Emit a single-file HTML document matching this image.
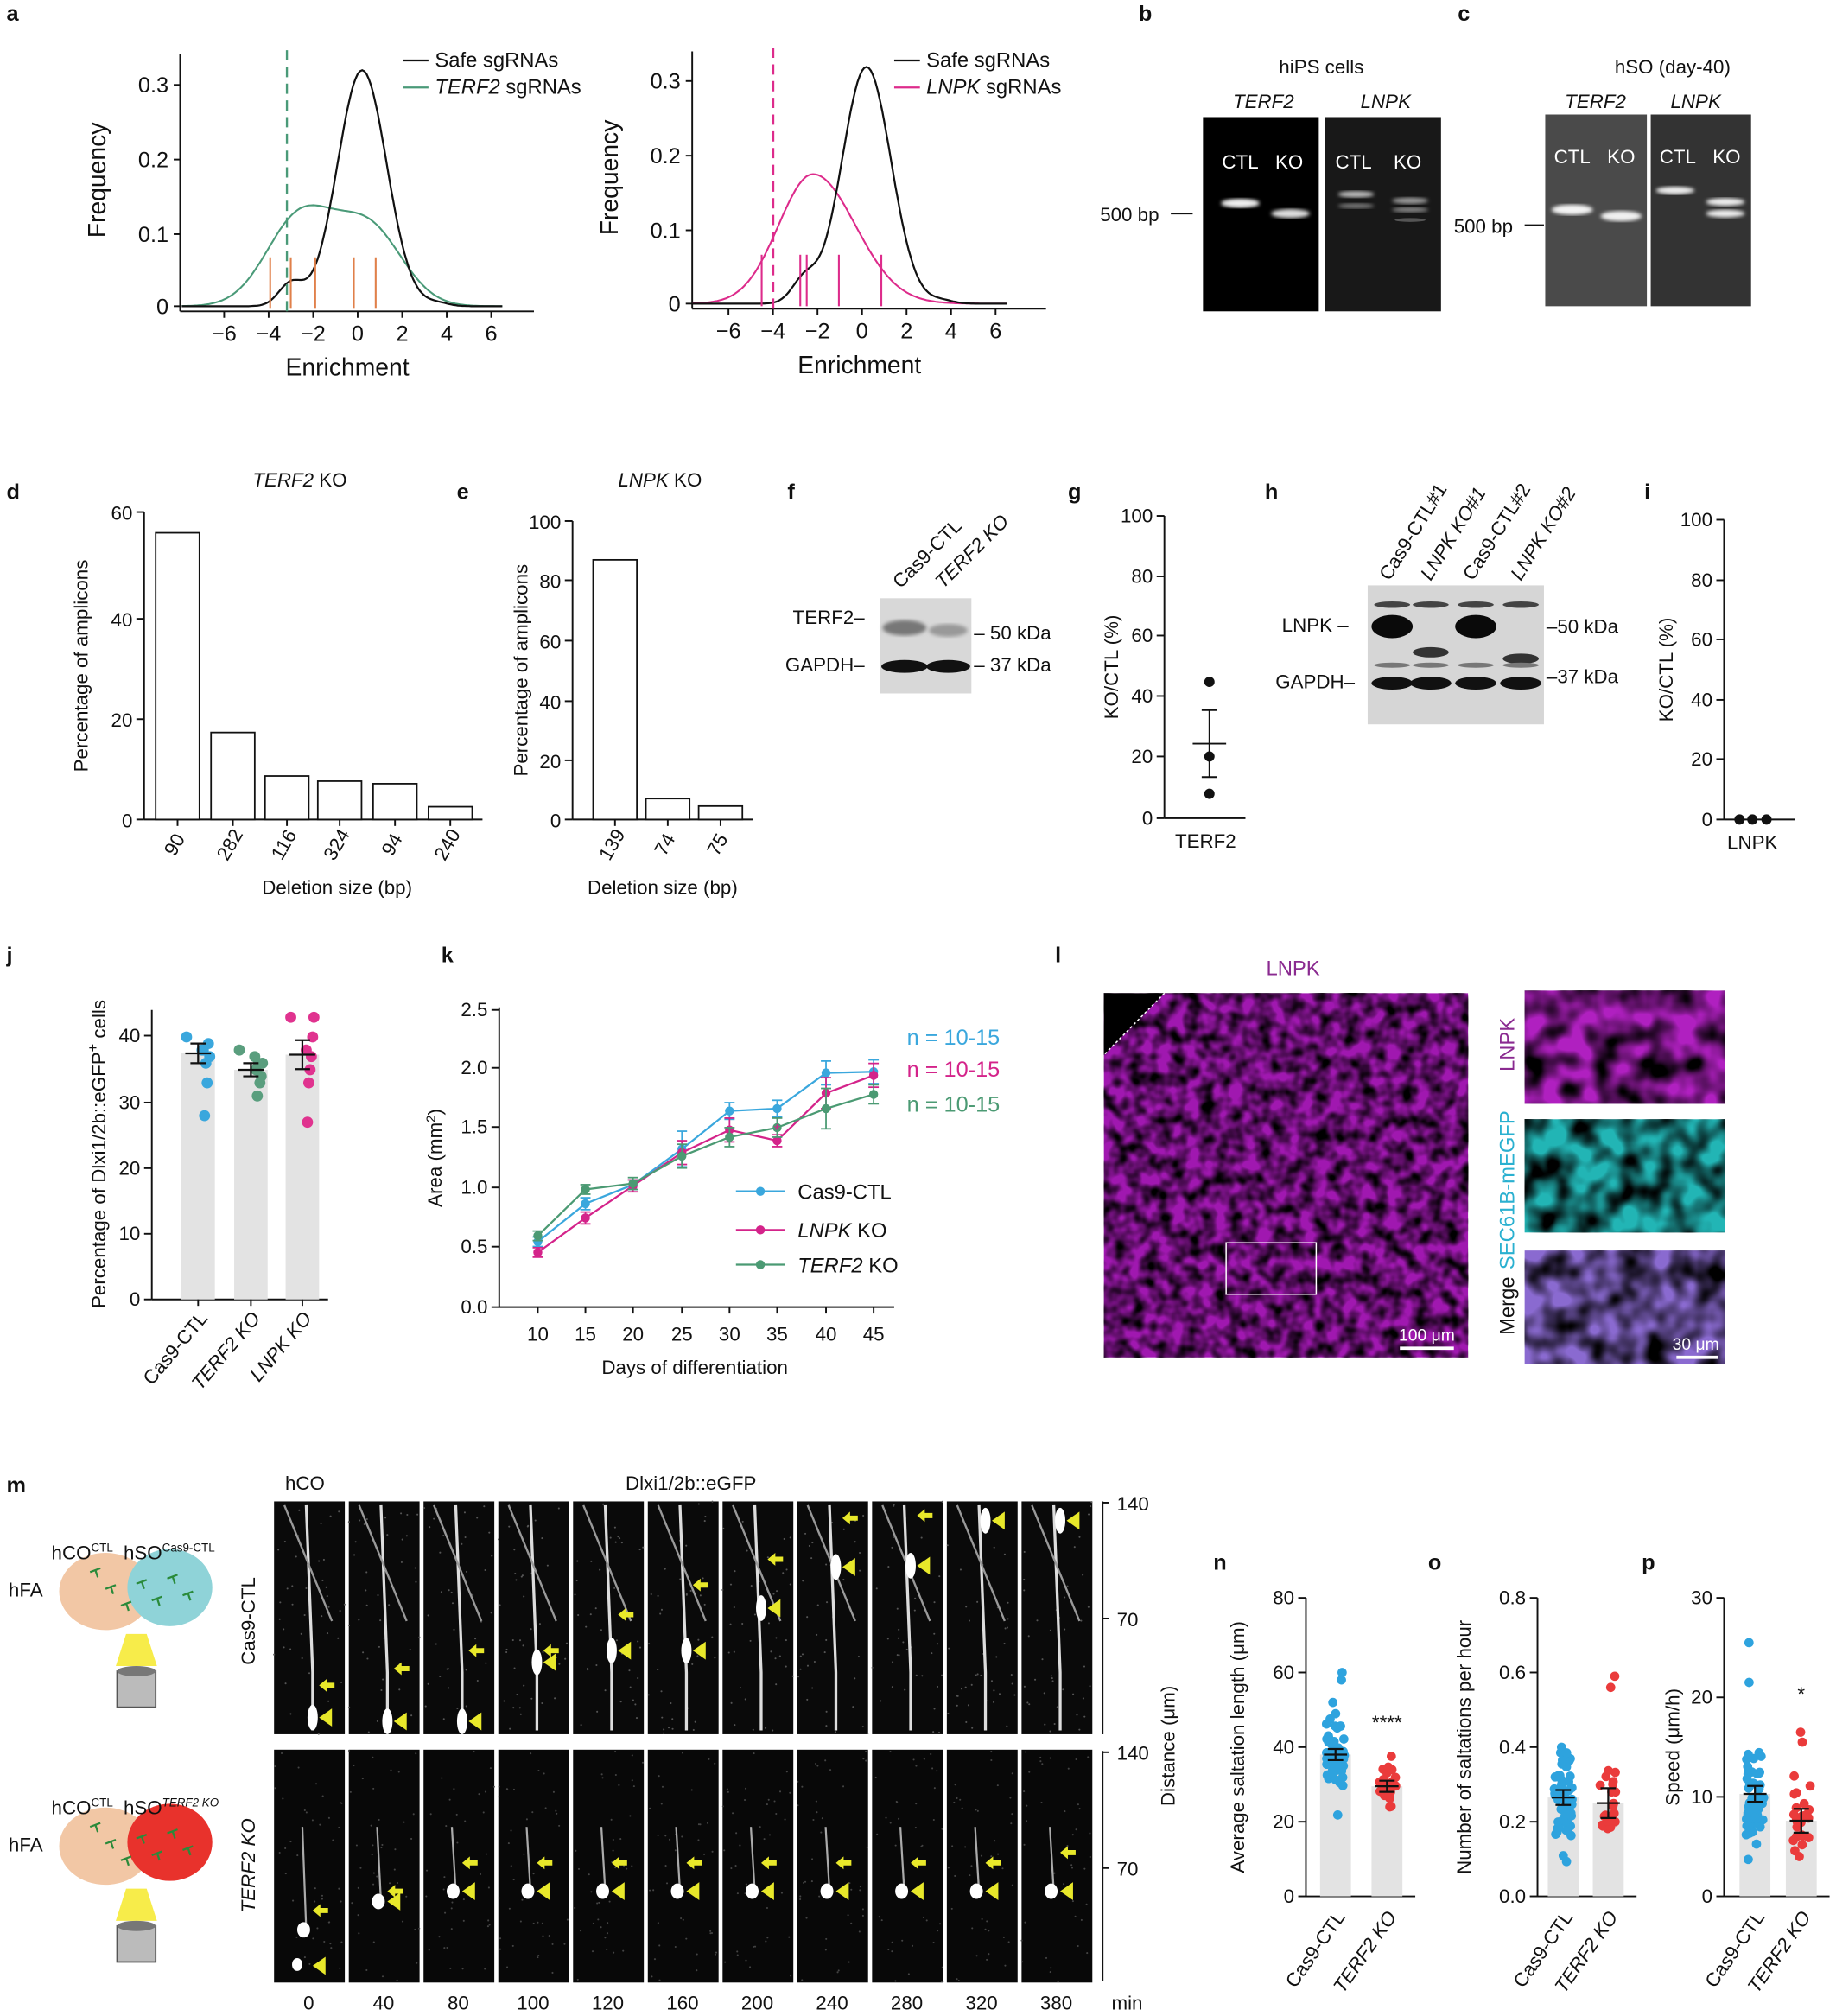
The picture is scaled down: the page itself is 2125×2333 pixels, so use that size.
<!DOCTYPE html>
<html><head><meta charset="utf-8"><style>
html,body{margin:0;padding:0;background:#fff}
svg{display:block}
text{font-family:"Liberation Sans",Arial,sans-serif;fill:#111}
.b{font-weight:bold;font-size:17px}
.t{font-size:15px}
.s{font-size:13px}
.i{font-style:italic}
</style></head><body>
<svg id="S" xmlns="http://www.w3.org/2000/svg" width="2125" height="2333" viewBox="0 0 1427 1567" preserveAspectRatio="none">
<defs>
<filter id="tex" x="0" y="0" width="100%" height="100%">
<feTurbulence type="fractalNoise" baseFrequency="0.09" numOctaves="2" seed="3"/>
<feColorMatrix type="matrix" values="0 0 0 0 0  0 0 0 0 0  0 0 0 0 0  0 0 0 -2.2 1.5"/>
</filter>
<filter id="tex2" x="0" y="0" width="100%" height="100%">
<feTurbulence type="fractalNoise" baseFrequency="0.05" numOctaves="2" seed="7"/>
<feColorMatrix type="matrix" values="0 0 0 0 0  0 0 0 0 0  0 0 0 0 0  0 0 0 -2.4 1.6"/>
</filter>
<filter id="blur1"><feGaussianBlur stdDeviation="1.5"/></filter>
</defs>
<g id="G" stroke-linecap="butt"></g>
</svg>
<script>
var G=document.getElementById('G'),NS='http://www.w3.org/2000/svg';
function el(t,a,txt){var e=document.createElementNS(NS,t);for(var k in a)e.setAttribute(k,a[k]);if(txt!==undefined)e.textContent=txt;G.appendChild(e);return e;}
function L(x1,y1,x2,y2,c,w,d){var a={x1:x1,y1:y1,x2:x2,y2:y2,stroke:c||'#111','stroke-width':w||1.3};if(d)a['stroke-dasharray']=d;return el('line',a);}
function T(x,y,s,cls,anc,rot,fill){var a={x:x,y:y,'class':cls||'t','text-anchor':anc||'middle'};if(rot!==undefined)a.transform='rotate('+rot+' '+x+' '+y+')';if(fill)a.style='fill:'+fill;return el('text',a,s);}
function R(x,y,w,h,f,st){var a={x:x,y:y,width:w,height:h,fill:f};if(st){a.stroke=st;a['stroke-width']=1.2;}return el('rect',a);}
function C(x,y,r,f){return el('circle',{cx:x,cy:y,r:r,fill:f});}
function P(d,st,w,f){return el('path',{d:d,stroke:st||'none','stroke-width':w||1.3,fill:f||'none'});}
var seed=1;function rnd(){seed=(seed*16807)%2147483647;return seed/2147483647;}
function g(x,m,s){return Math.exp(-(x-m)*(x-m)/(2*s*s));}
[['a',5,16],['b',885,16],['c',1133,16],['d',5,388],['e',355,388],['f',612,388],['g',830,388],['h',983,388],['i',1278,388],['j',5,748],['k',343,748],['l',820,748],['m',5,1160],['n',943,1220],['o',1110,1220],['p',1276,1220]].forEach(function(p){T(p[1],p[2],p[0],'b','start');});

// ---- panel a
function densPanel(ax,zx,uy,y0,ytop,ticks,col,tcol,fn,dx,tickxs,legend){
  L(ax,ytop,ax,y0+4);
  ticks.forEach(function(t){L(ax-5,t[1],ax,t[1]);T(ax-9,t[1]+6,t[0],'t','end').style.fontSize='17px';});
  L(ax,y0+4,ax+275,y0+4);
  for(var v=-6;v<=6;v+=2){var x=zx+17.3*v;L(x,y0+4,x,y0+9);T(x,y0+27,(v<0?'\u2212':'')+Math.abs(v),'t').style.fontSize='17px';}
  var d1='',d2='';
  for(var x=-8;x<=6.5;x+=0.1){var px=zx+17.3*x;if(px<ax)continue;var yb=0.32*g(x,0.2,1.1)+0.03*g(x,(ax<300?-3:-2.6),0.55)+0.004*g(x,3.6,0.5);
    d1+=(d1?'L':'M')+px.toFixed(1)+' '+(y0-uy*yb).toFixed(1);
    d2+=(d2?'L':'M')+px.toFixed(1)+' '+(y0-uy*fn(x)).toFixed(1);}
  P(d2,col,1.4);P(d1,'#111',1.5);
  L(dx,ytop-3,dx,y0+4,col,1.6,'8,5');
  tickxs.forEach(function(x){L(x,y0-38,x,y0+2,tcol,1.4);});
  L(legend,47,legend+20,47,'#111',1.5);T(legend+25,52,'Safe sgRNAs','t','start').style.fontSize='16px';
  L(legend,68,legend+20,68,col,1.5);
  var tt=T(legend+25,73,'','t','start');tt.style.fontSize='16px';var ts=document.createElementNS(NS,'tspan');ts.setAttribute('font-style','italic');ts.textContent=(ax<300?'TERF2':'LNPK');tt.appendChild(ts);tt.appendChild(document.createTextNode(' sgRNAs'));
}
densPanel(140,278,573,238,42,[['0.3',66],['0.2',124],['0.1',182],['0',238]],'#4a9a78','#e0804a',function(x){return 0.12*g(x,-2.6,1.5)+0.105*g(x,0.5,1.5);},223,[210,226,245,275,292],313);
T(82,140,'Frequency','t','middle',-90);T(270,292,'Enrichment','t');
densPanel(538,670,575,236,40,[['0.3',63],['0.2',121],['0.1',179],['0',236]],'#dd2b8b','#dd2b8b',function(x){return 0.175*(x<-2.2?g(x,-2.2,1.55):g(x,-2.2,1.9));},601,[592,622,627,652,685],695);
T(480,138,'Frequency','t','middle',-90);T(668,290,'Enrichment','t');
Array.prototype.forEach.call(G.querySelectorAll('text'),function(t){if(t.textContent=='Frequency'||t.textContent=='Enrichment')t.style.fontSize='19px';});

// ---- panel b
T(1027,57,'hiPS cells','t');T(982,84,'TERF2','t i');T(1077,84,'LNPK','t i');
R(935,91,90,151,'#000');R(1030,91,90,151,'#181818');
['CTL','KO'].forEach(function(s,i){T(964+i*38,131,s,'t','middle',undefined,'#fff');T(1052+i*42,131,s,'t','middle',undefined,'#fff');});
el('ellipse',{cx:964,cy:158,rx:15,ry:3.5,fill:'#eee',filter:'url(#blur1)'});el('ellipse',{cx:1003,cy:166,rx:15,ry:3.5,fill:'#ddd',filter:'url(#blur1)'});
el('ellipse',{cx:1054,cy:151,rx:14,ry:2.5,fill:'#bbb',filter:'url(#blur1)'});el('ellipse',{cx:1054,cy:160,rx:14,ry:2,fill:'#777',filter:'url(#blur1)'});
el('ellipse',{cx:1096,cy:156,rx:14,ry:2.5,fill:'#999',filter:'url(#blur1)'});el('ellipse',{cx:1096,cy:163,rx:14,ry:2,fill:'#888',filter:'url(#blur1)'});el('ellipse',{cx:1096,cy:171,rx:12,ry:1.5,fill:'#555'});
T(855,172,'500 bp','t','start');L(910,166,927,166);
// ---- panel c
T(1300,57,'hSO (day-40)','t');T(1240,84,'TERF2','t i');T(1318,84,'LNPK','t i');
R(1201,89,79,149,'#4a4a4a');R(1283,89,78,149,'#333');
T(1222,127,'CTL','t','middle',undefined,'#fff');T(1260,127,'KO','t','middle',undefined,'#fff');T(1304,127,'CTL','t','middle',undefined,'#fff');T(1342,127,'KO','t','middle',undefined,'#fff');
el('ellipse',{cx:1222,cy:163,rx:16,ry:4,fill:'#f4f4f4',filter:'url(#blur1)'});el('ellipse',{cx:1260,cy:168,rx:16,ry:4,fill:'#f0f0f0',filter:'url(#blur1)'});
el('ellipse',{cx:1302,cy:148,rx:15,ry:3,fill:'#eee',filter:'url(#blur1)'});el('ellipse',{cx:1341,cy:157,rx:15,ry:3,fill:'#eee',filter:'url(#blur1)'});el('ellipse',{cx:1341,cy:166,rx:15,ry:3,fill:'#eee',filter:'url(#blur1)'});
T(1130,181,'500 bp','t','start');L(1185,175,1200,175);

// ---- bar histograms d,e
function hist(ax,y0,ytop,ticks,uy,bars,cx,w,ylab,ylx,title,tx){
  L(ax,ytop,ax,y0);ticks.forEach(function(t){L(ax-6,t[1],ax,t[1]);T(ax-9,t[1]+6,t[0],'t','end');});
  L(ax,y0,cx[cx.length-1]+w/2+8,y0);
  bars.forEach(function(b,i){R(cx[i]-w/2,y0-b[1]*uy,w,b[1]*uy,'#fff','#111');L(cx[i],y0,cx[i],y0+5);T(cx[i]+2,y0+22,b[0],'t','middle',-60);});
  T(ylx,(ytop+y0)/2,ylab,'t','middle',-90);
  var tt=T(tx,378,'','t');var ts=document.createElementNS(NS,'tspan');ts.setAttribute('font-style','italic');ts.textContent=title;tt.appendChild(ts);tt.appendChild(document.createTextNode(' KO'));
}
hist(112,637,398,[['60',398],['40',481],['20',559],['0',637]],3.98,[['90',56],['282',17],['116',8.5],['324',7.5],['94',7],['240',2.5]],[138,181,223,264,307,350],34,'Percentage of amplicons',68,'TERF2',233);
T(262,695,'Deletion size (bp)','t');
hist(445,637,405,[['100',405],['80',451],['60',498],['40',545],['20',591],['0',637]],2.32,[['139',87],['74',7],['75',4.5]],[478,519,560],34,'Percentage of amplicons',410,'LNPK',513);
T(515,695,'Deletion size (bp)','t');

// ---- f blot
R(684,465,71,74,'#d8d8d8');
el('ellipse',{cx:703,cy:488,rx:17,ry:6,fill:'#777',filter:'url(#blur1)'});el('ellipse',{cx:737,cy:490,rx:15,ry:5,fill:'#999',filter:'url(#blur1)'});
el('ellipse',{cx:703,cy:518,rx:18,ry:5,fill:'#111'});el('ellipse',{cx:737,cy:518,rx:17,ry:5,fill:'#111'});
T(672,485,'TERF2\u2013','t','end');T(672,522,'GAPDH\u2013','t','end');
T(757,497,'\u2013 50 kDa','t','start');T(757,522,'\u2013 37 kDa','t','start');
T(700,458,'Cas9-CTL','t','start',-45);T(733,458,'TERF2 KO','t i','start',-45);
// ---- g
function dotax(ax,y0,ytop,ticks,yl,ylx,lab,labx,xend){L(ax,ytop,ax,y0);ticks.forEach(function(t){L(ax-6,t[1],ax,t[1]);T(ax-9,t[1]+5,t[0],'t','end');});L(ax,y0,xend,y0);T(ylx,(ytop+y0)/2,yl,'t','middle',-90);T(labx,y0+23,lab,'t');}
dotax(905,636,401,[['100',401],['80',448],['60',494],['40',541],['20',588],['0',636]],'KO/CTL (%)',869,'TERF2',937,968);
[530,588,617].forEach(function(y){C(940,y,4,'#111');});L(927,578,953,578);L(940,552,940,604);L(934,552,946,552);L(934,604,946,604);
// ---- h blot
R(1063,455,137,108,'#d6d6d6');
[1082,1112,1147,1182].forEach(function(x,i){
 if(i==0||i==2)el('ellipse',{cx:x,cy:487,rx:16,ry:9,fill:'#0a0a0a'});else el('ellipse',{cx:x,cy:i==3?512:507,rx:14,ry:4,fill:'#333'});
 el('ellipse',{cx:x,cy:470,rx:14,ry:2.5,fill:'#444'});el('ellipse',{cx:x,cy:531,rx:16,ry:5,fill:'#111'});el('ellipse',{cx:x,cy:517,rx:14,ry:2,fill:'#777'});});
T(1048,491,'LNPK \u2013','t','end');T(1053,535,'GAPDH\u2013','t','end');T(1202,492,'\u201350 kDa','t','start');T(1202,531,'\u201337 kDa','t','start');
['Cas9-CTL#1','LNPK KO#1','Cas9-CTL#2','LNPK KO#2'].forEach(function(s,i){var x=[1080,1112,1145,1182][i];T(x,452,s,'t'+(i%2?' i':''),'start',-58);});
// ---- i
dotax(1340,637,404,[['100',404],['80',451],['60',497],['40',544],['20',590],['0',637]],'KO/CTL (%)',1300,'LNPK',1362,1395);
[1352,1362,1373].forEach(function(x){C(x,637,4,'#111');});

// ---- j
(function(){var ax=118,y0=1010,uy=5.1;L(ax,785,ax,y0);[['40',805],['30',857],['20',908],['10',959],['0',1010]].forEach(function(t){L(ax-6,t[1],ax,t[1]);T(ax-9,t[1]+5,t[0],'t','end');});
L(ax,y0,255,y0);
var cs=['#3aa7dd','#5a9e7e','#e0338f'],cx=[154,195,235],mean=[37.5,35,37.3],se=[1.5,1,2.2];
var pts=[[40,37,39,33,36,28,38,38],[38,36,34,33,36,31,35,37],[43,43,40,37,35,33,27,38]];
cx.forEach(function(x,i){R(x-13,y0-mean[i]*uy,26,mean[i]*uy,'#e3e3e3');L(x,y0,x,y0+5);
 pts[i].forEach(function(v,k){C(x+((k*37)%19-9),y0-v*uy,4.3,cs[i]);});
 var ym=y0-mean[i]*uy;L(x-10,ym,x+10,ym,'#111',1.5);L(x,ym-se[i]*uy,x,ym+se[i]*uy,'#111',1.5);L(x-6,ym-se[i]*uy,x+6,ym-se[i]*uy,'#111',1.5);L(x-6,ym+se[i]*uy,x+6,ym+se[i]*uy,'#111',1.5);});
['Cas9-CTL','TERF2 KO','LNPK KO'].forEach(function(s,i){T(cx[i]+8,1025,s,'t'+(i?' i':''),'end',-50);});
var t=T(82,897,'Percentage of Dlxi1/2b::eGFP','t','middle',-90);var sp=document.createElementNS(NS,'tspan');sp.setAttribute('dy','-6');sp.setAttribute('font-size','11');sp.textContent='+';t.appendChild(sp);var sp2=document.createElementNS(NS,'tspan');sp2.setAttribute('dy','6');sp2.textContent=' cells';t.appendChild(sp2);
})();
// ---- k
(function(){var ax=388,y0=1016,uy=92.4;L(ax,783,ax,y0);
[['2.5',785],['2.0',830],['1.5',876],['1.0',923],['0.5',969],['0.0',1016]].forEach(function(t){L(ax-6,t[1],ax,t[1]);T(ax-9,t[1]+5,t[0],'t','end');});
L(ax,y0,695,y0);var xs=[418,455,492,530,567,604,642,679];
xs.forEach(function(x,i){L(x,y0,x,y0+5);T(x,y0+26,String(10+5*i),'t');});
var series=[['#3aa7dd',[0.55,0.87,1.03,1.33,1.65,1.67,1.97,1.98],[0.04,0.05,0.04,0.15,0.07,0.07,0.1,0.1]],
['#d4238a',[0.46,0.75,1.02,1.30,1.49,1.40,1.80,1.95],[0.04,0.05,0.05,0.1,0.1,0.05,0.13,0.1]],
['#4b9a73',[0.6,0.99,1.04,1.27,1.43,1.51,1.67,1.79],[0.04,0.04,0.05,0.1,0.08,0.08,0.17,0.08]]];
series.forEach(function(s){var d='';s[1].forEach(function(v,i){d+=(i?'L':'M')+xs[i]+' '+(y0-v*uy);L(xs[i],y0-(v+s[2][i])*uy,xs[i],y0-(v-s[2][i])*uy,s[0],1.2);L(xs[i]-4,y0-(v+s[2][i])*uy,xs[i]+4,y0-(v+s[2][i])*uy,s[0],1.2);L(xs[i]-4,y0-(v-s[2][i])*uy,xs[i]+4,y0-(v-s[2][i])*uy,s[0],1.2);});P(d,s[0],1.5);s[1].forEach(function(v,i){C(xs[i],y0-v*uy,3.5,s[0]);});});
T(604,883,'*','s','middle',undefined,'#d4238a');
T(741,812,'n = 10-15','t','middle',undefined,'#3aa7dd').style.fontSize='17px';
T(741,837,'n = 10-15','t','middle',undefined,'#d4238a').style.fontSize='17px';
T(741,864,'n = 10-15','t','middle',undefined,'#4b9a73').style.fontSize='17px';
[['Cas9-CTL',926,'#3aa7dd'],['LNPK KO',956,'#d4238a'],['TERF2 KO',983,'#4b9a73']].forEach(function(r,i){L(572,r[1],610,r[1],r[2],1.5);C(591,r[1],3.5,r[2]);
 var t=T(620,r[1]+6,'','t','start');t.style.fontSize='16px';if(i==0)t.textContent=r[0];else{var sp=document.createElementNS(NS,'tspan');sp.setAttribute('font-style','italic');sp.textContent=r[0].split(' ')[0];t.appendChild(sp);t.appendChild(document.createTextNode(' KO'));}});
T(540,1068,'Days of differentiation','t');
var t=T(343,900,'Area (mm','t','middle',-90);var sp=document.createElementNS(NS,'tspan');sp.setAttribute('dy','-5');sp.setAttribute('font-size','10');sp.textContent='2';t.appendChild(sp);var sp2=document.createElementNS(NS,'tspan');sp2.setAttribute('dy','5');sp2.textContent=')';t.appendChild(sp2);
})();
// ---- l
T(1005,758,'LNPK','t','middle',undefined,'#8a2a90').style.fontSize='16px';
R(858,772,283,283,'#a018b0');el('rect',{x:858,y:772,width:283,height:283,filter:'url(#tex)'});
P('M858 772 L905 772 L858 820 Z','none',1,'#000');L(905,772,858,820,'#fff',1,'2,2');
el('rect',{x:953,y:966,width:70,height:40,fill:'none',stroke:'#fff','stroke-width':1});
L(1088,1048,1130,1048,'#fff',2.5);T(1109,1042,'100 \u03bcm','s','middle',undefined,'#fff');
R(1185,770,156,88,'#b020c0');el('rect',{x:1185,y:770,width:156,height:88,filter:'url(#tex2)'});
R(1185,870,156,88,'#22b5b5');el('rect',{x:1185,y:870,width:156,height:88,filter:'url(#tex2)'});
R(1185,972,156,88,'#8a6ad0');el('rect',{x:1185,y:972,width:156,height:88,filter:'url(#tex2)'});
L(1303,1055,1335,1055,'#fff',2.5);T(1318,1049,'30 \u03bcm','s','middle',undefined,'#fff');
T(1177,812,'LNPK','t','middle',-90,'#8a2a90');T(1177,925,'SEC61B-mEGFP','t','middle',-90,'#2ab0d0');T(1177,1015,'Merge','t','middle',-90);
Array.prototype.forEach.call(G.querySelectorAll('text'),function(t){if(['LNPK','SEC61B-mEGFP','Merge'].indexOf(t.textContent)>=0&&t.getAttribute('transform'))t.style.fontSize='16px';});

// ---- m cartoons
function cart(y,col){
 el('ellipse',{cx:82,cy:y,rx:36,ry:30,fill:'#f2c7a5'});el('ellipse',{cx:132,cy:y-3,rx:33,ry:30,fill:col});
 for(var k=0;k<7;k++){var x=70+k*12,yy=y-15+(k*13)%30;P('M'+x+' '+yy+' l8 -3 m-4 1 l2 6','#2a8a3a',1.5);}
 P('M98 '+(y+33)+' L114 '+(y+33)+' L122 '+(y+58)+' L90 '+(y+58)+' Z','none',1,'#f7ec4a');
 R(91,y+62,30,28,'#bbb','#555');el('ellipse',{cx:106,cy:y+62,rx:15,ry:4,fill:'#777'});
 T(20,y+4,'hFA','t');
}
cart(1237,'#8fd3d8');cart(1435,'#e8322c');
function supT(x,y,a,b,it){var t=T(x,y,a,'t','start');var s=document.createElementNS(NS,'tspan');s.setAttribute('dy','-6');s.setAttribute('font-size','9');if(it)s.setAttribute('font-style','italic');s.textContent=b;t.appendChild(s);}
supT(40,1212,'hCO','CTL');supT(96,1212,'hSO','Cas9-CTL');supT(40,1410,'hCO','CTL');supT(96,1410,'hSO','TERF2 KO',1);
T(237,1158,'hCO','t');T(537,1158,'Dlxi1/2b::eGFP','t');
T(198,1260,'Cas9-CTL','t','middle',-90);T(198,1450,'TERF2 KO','t i','middle',-90);
var mins=['0','40','80','100','120','160','200','240','280','320','380'];
seed=5;
function tri(x,y){P('M'+x+' '+y+' l10 -7 l0 14 Z','none',1,'#e8e82a');}
function arr(x,y){P('M'+x+' '+y+' l6 -5 l0 3 l6 0 l0 4 l-6 0 l0 3 Z','none',1,'#e8e82a');}
var TB=[1335,1338,1338,1292,1283,1283,1250,1218,1217,1182,1182];
var TA=[1310,1297,1283,1283,1255,1232,1212,1180,1178,0,0];
for(var i=0;i<11;i++){var x=213+i*58.1;
 R(x,1167,55,181,'#0a0a0a');R(x,1360,55,181,'#080808');
 for(var k=0;k<40;k++){C(x+rnd()*55,1167+rnd()*181,0.7,'#555');C(x+rnd()*55,1360+rnd()*181,0.7,'#444');}
 P('M'+(x+25)+' 1170 L'+(x+30)+' 1300 L'+(x+30)+' 1345','#ddd',2.2);
 P('M'+(x+8)+' 1170 L'+(x+45)+' 1260','#999',1.6);
 var by=TB[i];
 el('ellipse',{cx:x+30,cy:by,rx:4,ry:10,fill:'#fff'});
 tri(x+35,by);if(TA[i])arr(x+35,TA[i]);
 var bt=[1500,1478,1470,1470,1470,1470,1470,1470,1470,1470,1470][i];
 P('M'+(x+22)+' 1420 L'+(x+25)+' '+bt,'#aaa',1.5);
 el('ellipse',{cx:x+23,cy:bt,rx:5,ry:6,fill:'#fff'});tri(x+30,i==0?1528:bt);
 if(i==0)el('ellipse',{cx:x+18,cy:1527,rx:4,ry:5,fill:'#fff'});
 arr(x+30,[1485,1470,1448,1448,1448,1448,1448,1448,1448,1448,1440][i]);
 T(x+27,1562,mins[i],'t');}
T(876,1562,'min','t');
L(857,1167,857,1348);L(857,1168,862,1168);L(857,1258,862,1258);L(857,1361,857,1540);L(857,1362,862,1362);L(857,1452,862,1452);
T(868,1174,'140','t','start');T(868,1264,'70','t','start');T(868,1368,'140','t','start');T(868,1458,'70','t','start');
T(913,1357,'Distance (\u03bcm)','t','middle',-90);

// ---- n o p
function sw(ax,ticks,max,cx,means,ses,ylab,ylx,star,data){var y0=1474,ytop=1242,uy=(y0-ytop)/max;
 L(ax,ytop,ax,y0);ticks.forEach(function(t){var y=y0-t*uy;L(ax-6,y,ax,y);T(ax-9,y+5,max<1?t.toFixed(1):t,'t','end');});
 L(ax,y0,cx[1]+22,y0);var cs=['#2ea3de','#ea3b3b'];
 cx.forEach(function(x,i){R(x-12,y0-means[i]*uy,24,means[i]*uy,'#e3e3e3');
  data[i].forEach(function(v){var dx=(rnd()-0.5)*14;C(x+dx,y0-v*uy,3.6,cs[i]);});
  var ym=y0-means[i]*uy,e=ses[i]*uy;L(x-9,ym,x+9,ym,'#111',1.5);L(x,ym-e,x,ym+e,'#111',1.5);L(x-6,ym-e,x+6,ym-e,'#111',1.5);L(x-6,ym+e,x+6,ym+e,'#111',1.5);
  T(x+8,1490,i?'TERF2 KO':'Cas9-CTL','t'+(i?' i':''),'end',-55);});
 T(ylx,1358,ylab,'t','middle',-90);if(star)T(cx[1],star[1],star[0],'t');}
function gen(n,m,s,lo,hi){var a=[];for(var k=0;k<n;k++){var v=m+(rnd()+rnd()+rnd()-1.5)*s*1.4;a.push(Math.min(hi,Math.max(lo,v)));}return a;}
seed=11;
sw(1015,[0,20,40,60,80],80,[1038,1078],[38,29.5],[1.5,1.5],'Average saltation length (\u03bcm)',967,['****',1344],[gen(55,38,8,20,60).concat([60,58]),gen(24,29,5,18,40)]);
sw(1195,[0,0.2,0.4,0.6,0.8],0.8,[1215,1250],[0.265,0.25],[0.02,0.04],'Number of saltations per hour',1143,null,[gen(55,0.26,0.09,0.09,0.5),gen(24,0.24,0.1,0.13,0.59).concat([0.59,0.56])]);
sw(1340,[0,10,20,30],30,[1364,1400],[10.3,7.6],[0.8,1.2],'Speed (\u03bcm/h)',1305,['*',1322],[gen(55,10,4,3,20).concat([25.5,21.5]),gen(24,7,3,4,17).concat([16.5,15.5])]);
</script>
</body></html>
